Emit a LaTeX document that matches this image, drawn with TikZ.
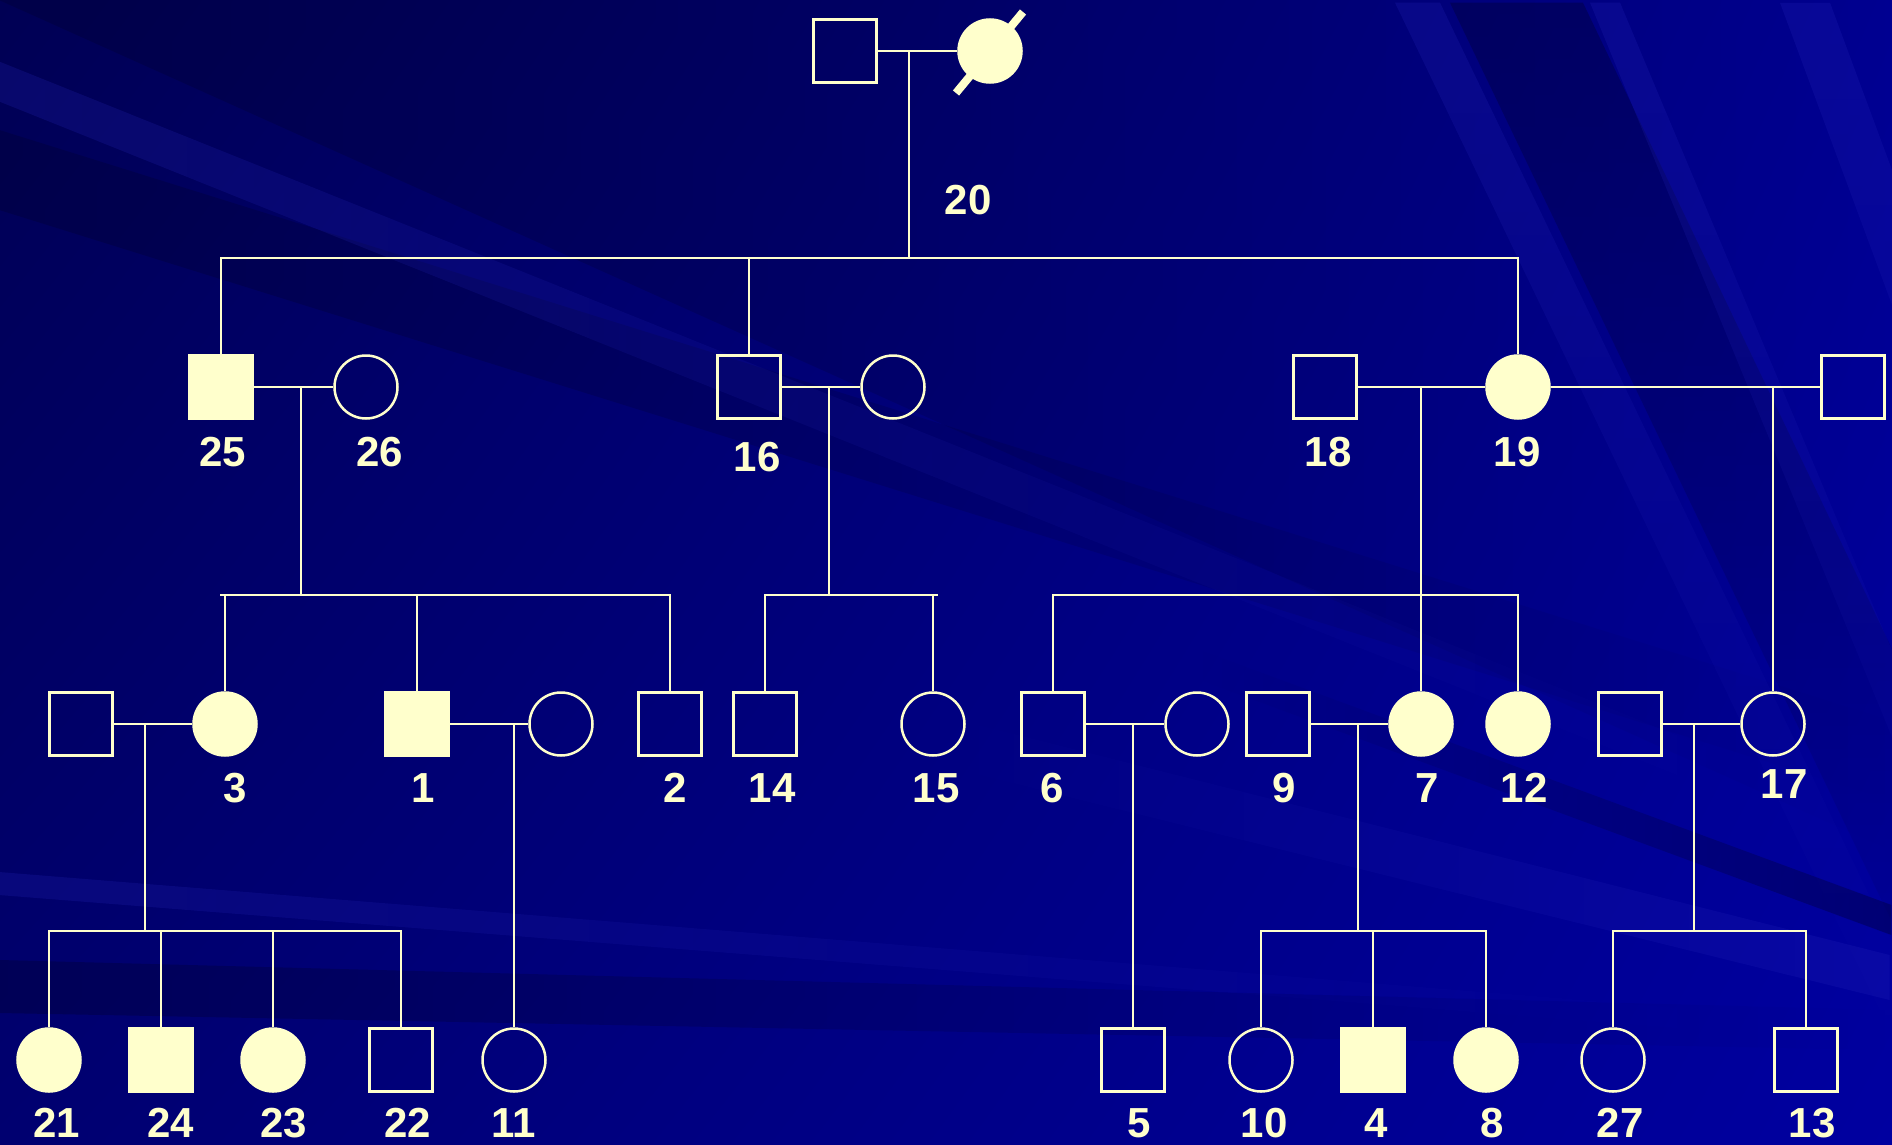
\documentclass[tikz,border=0pt]{standalone}
\usepackage{fontspec}
\usetikzlibrary{shadings,fadings}
\setmainfont{Liberation Sans}
\definecolor{cream}{RGB}{255,255,204}
\definecolor{bgUL}{RGB}{0,0,84}
\definecolor{bgUR}{RGB}{0,0,145}
\definecolor{bgLL}{RGB}{0,0,112}
\definecolor{bgLR}{RGB}{0,0,160}
\definecolor{bglight}{RGB}{40,40,190}
\definecolor{bgdark}{RGB}{0,0,55}
\begin{document}
\begin{tikzpicture}[x=1pt,y=-1pt,
  ln/.style={draw=cream,line width=2pt},
  male/.style={rectangle,draw=cream,line width=2.5pt,minimum size=63pt,inner sep=0pt},
  female/.style={circle,draw=cream,line width=2.5pt,minimum size=63pt,inner sep=0pt},
  aff/.style={fill=cream},
  lbl/.style={text=cream,font=\fontsize{42}{48}\selectfont\bfseries,inner sep=0pt},
  lightband/.style={fill=bglight,opacity=0.22},
  darkband/.style={fill=bgdark,opacity=0.4}]
% ---------- background ----------
\shade[upper left=bgUL,upper right=bgUR,lower left=bgLL,lower right=bgLR] (0,0) rectangle (1892,1145);
\begin{scope}
\clip (0,0) rectangle (1892,1145);
\fill[darkband,path fading=east] (0,0) -- (1892,0) -- (1892,850) -- cycle;
\fill[darkband,path fading=east] (0,130) -- (1892,720) -- (1892,800) -- (0,210) -- cycle;
\fill[lightband,path fading=east] (0,60) -- (1892,820) -- (1892,860) -- (0,100) -- cycle;
\fill[lightband,path fading=south] (1395,0) -- (1440,0) -- (1990,1145) -- (1945,1145) -- cycle;
\fill[darkband,path fading=south] (1450,0) -- (1583,0) -- (2130,1145) -- (2000,1145) -- cycle;
\fill[lightband,path fading=south] (1590,0) -- (1620,0) -- (2100,1145) -- (2060,1145) -- cycle;
\fill[lightband,path fading=south] (1780,0) -- (1830,0) -- (2200,1000) -- (2150,1000) -- cycle;
\fill[lightband,path fading=west] (900,705) -- (1892,955) -- (1892,1000) -- (900,755) -- cycle;
\fill[darkband,path fading=west] (1200,650) -- (1892,905) -- (1892,935) -- (1200,680) -- cycle;
\fill[lightband,path fading=east] (0,872) -- (1892,1025) -- (1892,1045) -- (0,895) -- cycle;
\fill[darkband,path fading=east] (0,960) -- (1892,1010) -- (1892,1050) -- (0,1013) -- cycle;
\end{scope}
\useasboundingbox (0,0) rectangle (1892,1145);

% ---------- generation I ----------
\node[male] (p1) at (845,51) {};
\node[female,aff] (p2) at (990,51) {};
\draw[cream,line width=8pt] (p2) ++(-34,42) -- ++(67,-81);
\node[lbl] (l20) at (968,200) {20};

% ---------- generation II ----------
\node[male,aff] (n25) at (221,387) {};
\node[female] (n26) at (366,387) {};
\node[male] (n16) at (749,387) {};
\node[female] (s16) at (893,387) {};
\node[male] (n18) at (1325,387) {};
\node[female,aff] (n19) at (1518,387) {};
\node[male] (s19) at (1853,387) {};
\node[lbl] (l25) at (223,452) {25};
\node[lbl] (l26) at (380,452) {26};
\node[lbl] (l16) at (757,457) {16};
\node[lbl] (l18) at (1328,452) {18};
\node[lbl] (l19) at (1517,452) {19};

% ---------- generation III ----------
\node[male] (sp3) at (81,724) {};
\node[female,aff] (n3) at (225,724) {};
\node[male,aff] (n1) at (417,724) {};
\node[female] (sp1) at (561,724) {};
\node[male] (n2) at (670,724) {};
\node[male] (n14) at (765,724) {};
\node[female] (n15) at (933,724) {};
\node[male] (n6) at (1053,724) {};
\node[female] (sp6) at (1197,724) {};
\node[male] (n9) at (1278,724) {};
\node[female,aff] (n7) at (1421,724) {};
\node[female,aff] (n12) at (1518,724) {};
\node[male] (sp17) at (1630,724) {};
\node[female] (n17) at (1773,724) {};
\node[lbl] (l3) at (235,788) {3};
\node[lbl] (l1) at (423,788) {1};
\node[lbl] (l2) at (675,788) {2};
\node[lbl] (l14) at (772,788) {14};
\node[lbl] (l15) at (936,788) {15};
\node[lbl] (l6) at (1052,788) {6};
\node[lbl] (l9) at (1284,788) {9};
\node[lbl] (l7) at (1427,788) {7};
\node[lbl] (l12) at (1524,788) {12};
\node[lbl] (l17) at (1784,784) {17};

% ---------- generation IV ----------
\node[female,aff] (n21) at (49,1060) {};
\node[male,aff] (n24) at (161,1060) {};
\node[female,aff] (n23) at (273,1060) {};
\node[male] (n22) at (401,1060) {};
\node[female] (n11) at (514,1060) {};
\node[male] (n5) at (1133,1060) {};
\node[female] (n10) at (1261,1060) {};
\node[male,aff] (n4) at (1373,1060) {};
\node[female,aff] (n8) at (1486,1060) {};
\node[female] (n27) at (1613,1060) {};
\node[male] (n13) at (1806,1060) {};
\node[lbl] (l21) at (57,1123) {21};
\node[lbl] (l24) at (171,1123) {24};
\node[lbl] (l23) at (284,1123) {23};
\node[lbl] (l22) at (408,1123) {22};
\node[lbl] (l11) at (514,1123) {11};
\node[lbl] (l5) at (1139,1123) {5};
\node[lbl] (l10) at (1264,1123) {10};
\node[lbl] (l4) at (1376,1123) {4};
\node[lbl] (l8) at (1492,1123) {8};
\node[lbl] (l27) at (1620,1123) {27};
\node[lbl] (l13) at (1812,1123) {13};

% ---------- connectors ----------
% I
\coordinate (m1) at (909,51);
\coordinate (s1) at (909,258);
\draw[ln] (p1.east) -- (p2.west);
\draw[ln] (m1) -- (s1);
\draw[ln] (n25.north) |- (s1);
\draw[ln] (n16.north) |- (s1);
\draw[ln] (n19.north) |- (s1);
% 25 x 26
\coordinate (m25) at (301,387);
\coordinate (s25) at (301,595);
\coordinate (e25) at (220,595);
\draw[ln] (n25.east) -- (n26.west);
\draw[ln] (m25) -- (s25);
\draw[ln] (e25) -- (s25);
\draw[ln] (n3.north) |- (s25);
\draw[ln] (n1.north) |- (s25);
\draw[ln] (n2.north) |- (s25);
% 16 x wife
\coordinate (m16) at (829,387);
\coordinate (s16c) at (829,595);
\coordinate (e16) at (938,595);
\draw[ln] (n16.east) -- (s16.west);
\draw[ln] (m16) -- (s16c);
\draw[ln] (s16c) -- (e16);
\draw[ln] (n14.north) |- (s16c);
\draw[ln] (n15.north) |- (s16c);
% 18 x 19
\coordinate (m18) at (1421,387);
\coordinate (s18) at (1421,595);
\draw[ln] (n18.east) -- (n19.west);
\draw[ln] (m18) -- (n7.north);
\draw[ln] (n6.north) |- (s18);
\draw[ln] (n12.north) |- (s18);
% 19 x second husband
\coordinate (m19) at (1773,387);
\draw[ln] (n19.east) -- (s19.west);
\draw[ln] (m19) -- (n17.north);
% 3 x husband
\coordinate (m3) at (145,724);
\coordinate (s3) at (145,931);
\draw[ln] (sp3.east) -- (n3.west);
\draw[ln] (m3) -- (s3);
\draw[ln] (n21.north) |- (s3);
\draw[ln] (n24.north) |- (s3);
\draw[ln] (n23.north) |- (s3);
\draw[ln] (n22.north) |- (s3);
% 1 x wife
\coordinate (m1b) at (514,724);
\draw[ln] (n1.east) -- (sp1.west);
\draw[ln] (m1b) -- (n11.north);
% 6 x wife
\coordinate (m6) at (1133,724);
\draw[ln] (n6.east) -- (sp6.west);
\draw[ln] (m6) -- (n5.north);
% 9 x 7
\coordinate (m9) at (1358,724);
\coordinate (s9) at (1358,931);
\draw[ln] (n9.east) -- (n7.west);
\draw[ln] (m9) -- (s9);
\draw[ln] (n10.north) |- (s9);
\draw[ln] (n4.north) |- (s9);
\draw[ln] (n8.north) |- (s9);
% 17 x husband
\coordinate (m17) at (1694,724);
\coordinate (s17) at (1694,931);
\draw[ln] (sp17.east) -- (n17.west);
\draw[ln] (m17) -- (s17);
\draw[ln] (n27.north) |- (s17);
\draw[ln] (n13.north) |- (s17);
\end{tikzpicture}
\end{document}
